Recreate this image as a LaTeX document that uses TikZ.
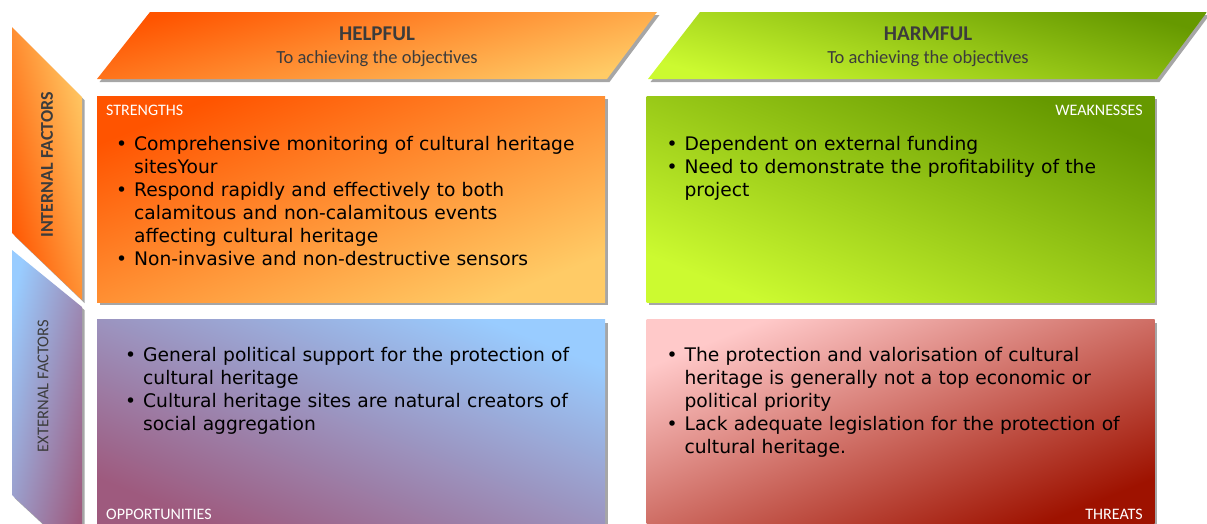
\documentclass[tikz,border=0pt]{standalone}
\usepackage{fontspec}
\setmainfont{Carlito}
\newfontfamily\itemfont{DejaVu Sans}
\usetikzlibrary{shadows}
\definecolor{orDark}{HTML}{FF5400}
\definecolor{orLight}{HTML}{FFCB66}
\definecolor{grDark}{HTML}{669900}
\definecolor{grLight}{HTML}{CCFA30}
\definecolor{blLight}{HTML}{99CCFF}
\definecolor{mauve}{HTML}{9E5A7E}
\definecolor{pkLight}{HTML}{FFC9C9}
\definecolor{redDark}{HTML}{9E1200}
\definecolor{headGray}{HTML}{3C3C3C}
\tikzstyle{shadowed}=[drop shadow={shadow xshift=2.5pt, shadow yshift=-3pt,
	opacity=0.35, fill=black}]
\tikzstyle{quad}=[shadowed, inner sep=0pt, minimum width=508pt,
	minimum height=206pt, anchor=north west]
\tikzstyle{tag}=[text=white, inner sep=0pt, font=\fontsize{16}{18}\selectfont]
\tikzstyle{items}=[text width=500pt, align=left, inner sep=0pt, anchor=north west,
	text=black, font=\itemfont\fontsize{18.7}{23}\selectfont]
\tikzstyle{head}=[text=headGray, inner sep=0pt]
\tikzstyle{side}=[text=headGray, inner sep=0pt, rotate=90]
\newcommand{\bul}[1]{\noindent\hangindent=18pt\hangafter=1%
	\makebox[18pt][l]{\textbullet}#1\par}
\begin{document}
\begin{tikzpicture}[x=1pt,y=-1pt]
	\useasboundingbox (0,0) rectangle (1207,523);

	% Column headers
	\path[shadowed, top color=orDark, bottom color=orLight, shading angle=15]
		(150,12) -- (657,12) -- (607,79) -- (97,79) -- cycle;
	\path (377,34) node (hHelp) [head, font=\bfseries\fontsize{21}{24}\selectfont] {HELPFUL};
	\path (377,58.5) node (sHelp) [head, font=\fontsize{18.5}{22}\selectfont] {To achieving the objectives};
	\path[shadowed, top color=grDark, bottom color=grLight, shading angle=-15]
		(700,12) -- (1207,12) -- (1157,79) -- (648,79) -- cycle;
	\path (928,34) node (hHarm) [head, font=\bfseries\fontsize{21}{24}\selectfont] {HARMFUL};
	\path (928,58.5) node (sHarm) [head, font=\fontsize{18.5}{22}\selectfont] {To achieving the objectives};

	% Row headers
	\path[shadowed, top color=orLight, bottom color=orDark, shading angle=-76]
		(12,27) -- (82,97) -- (82,300) -- (12,233) -- cycle;
	\path (47,165) node (tInt) [side, font=\bfseries\fontsize{18}{20}\selectfont] {INTERNAL FACTORS};
	\path[shadowed, top color=blLight, bottom color=mauve, shading angle=77]
		(12,250) -- (82,307) -- (82,560) -- (12,495) -- cycle;
	\path (43,386) node (tExt) [side, font=\fontsize{16.5}{19}\selectfont] {EXTERNAL FACTORS};

	% Quadrants
	\path (97,96) node (pS) [quad, top color=orDark, bottom color=orLight, shading angle=22] {};
	\path (pS.north east)+(41,0) node (pW) [quad, top color=grDark, bottom color=grLight, shading angle=-22] {};
	\path (pS.south west)+(0,17) node (pO) [quad, top color=blLight, bottom color=mauve, shading angle=-22] {};
	\path (pW.south west)+(0,17) node (pT) [quad, top color=pkLight, bottom color=redDark, shading angle=22] {};

	\path (pS.north west)+(9,14) node (lS) [tag, anchor=west] {STRENGTHS};
	\path (pW.north east)+(-12,14) node (lW) [tag, anchor=east] {WEAKNESSES};
	\path (pO.south west)+(9,-11) node (lO) [tag, anchor=west] {OPPORTUNITIES};
	\path (pT.south east)+(-12,-11) node (lT) [tag, anchor=east] {THREATS};

	\path (pS.north west)+(19,40) node (iS) [items] {%
		\bul{Comprehensive monitoring of cultural heritage\newline sitesYour}
		\bul{Respond rapidly and effectively to both\newline calamitous and non-calamitous events\newline affecting cultural heritage}
		\bul{Non-invasive and non-destructive sensors}};
	\path (pW.north west)+(20,40) node (iW) [items] {%
		\bul{Dependent on external funding}
		\bul{Need to demonstrate the profitability of the\newline project}};
	\path (pO.north west)+(28,28) node (iO) [items] {%
		\bul{General political support for the protection of\newline cultural heritage}
		\bul{Cultural heritage sites are natural creators of\newline social aggregation}};
	\path (pT.north west)+(20,28) node (iT) [items] {%
		\bul{The protection and valorisation of cultural\newline heritage is generally not a top economic or\newline political priority}
		\bul{Lack adequate legislation for the protection of\newline cultural heritage.}};
\end{tikzpicture}
\end{document}
